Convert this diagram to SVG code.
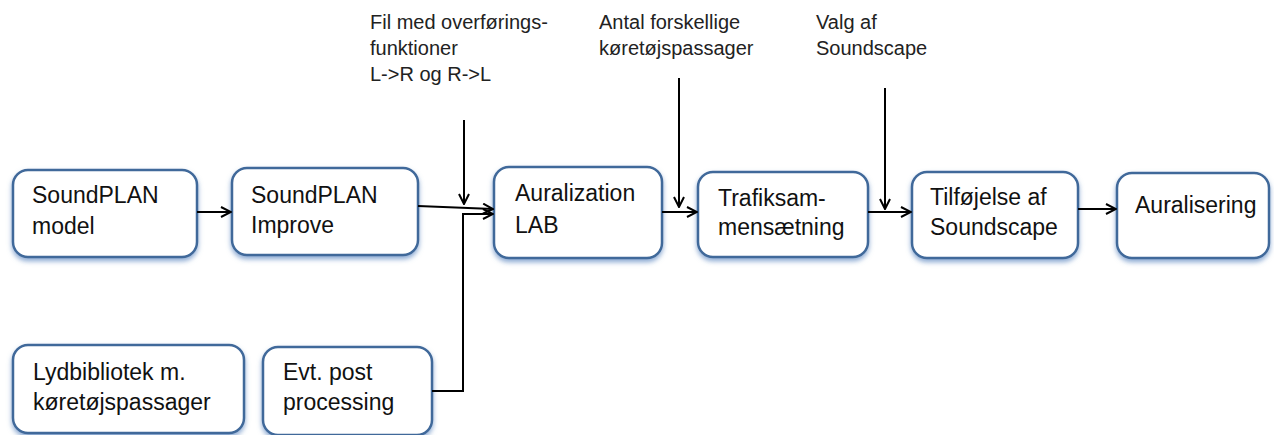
<svg xmlns="http://www.w3.org/2000/svg" width="1274" height="435" viewBox="0 0 1274 435">
<style>
.box{fill:#fff;stroke:#41699a;stroke-width:2.5;}
.nt{font-family:"Liberation Sans",Arial,sans-serif;font-size:23px;fill:#111;}
.lt{font-family:"Liberation Sans",Arial,sans-serif;font-size:20px;fill:#222;}
.c{fill:none;stroke:#000;stroke-width:2;}
</style>
<defs>
<filter id="sh" x="-10%" y="-10%" width="120%" height="130%">
<feGaussianBlur in="SourceAlpha" stdDeviation="2.5"/>
<feOffset dx="0" dy="3" result="b"/>
<feFlood flood-color="#5b86c0" flood-opacity="0.7"/>
<feComposite in2="b" operator="in"/>
<feMerge><feMergeNode/><feMergeNode in="SourceGraphic"/></feMerge>
</filter>
<marker id="ah" viewBox="0 0 12 12" refX="11" refY="6" markerWidth="12" markerHeight="12" markerUnits="userSpaceOnUse" orient="auto">
<path d="M1,1 L11,6 L1,11" fill="none" stroke="#000" stroke-width="2"/>
</marker>
</defs>
<g id="n1"><rect class="box" x="13" y="170" width="184" height="87" rx="15" filter="url(#sh)"/>
<text class="nt" x="32" y="203">SoundPLAN</text><text class="nt" x="32" y="234">model</text></g>
<g id="n2"><rect class="box" x="232" y="168" width="186" height="87" rx="15" filter="url(#sh)"/>
<text class="nt" x="251" y="203">SoundPLAN</text><text class="nt" x="251" y="233">Improve</text></g>
<g id="n3"><rect class="box" x="494" y="167" width="168" height="91" rx="15" filter="url(#sh)"/>
<text class="nt" x="515" y="201">Auralization</text><text class="nt" x="515" y="233">LAB</text></g>
<g id="n4"><rect class="box" x="698" y="172" width="170" height="85" rx="15" filter="url(#sh)"/>
<text class="nt" x="718" y="206">Trafiksam-</text><text class="nt" x="718" y="235">mensætning</text></g>
<g id="n5"><rect class="box" x="912" y="172" width="166" height="86" rx="15" filter="url(#sh)"/>
<text class="nt" x="930" y="205">Tilføjelse af</text><text class="nt" x="930" y="235">Soundscape</text></g>
<g id="n6"><rect class="box" x="1117" y="173" width="152" height="85" rx="15" filter="url(#sh)"/>
<text class="nt" x="1135" y="213">Auralisering</text></g>
<g id="n7"><rect class="box" x="13" y="345" width="231" height="88" rx="15" filter="url(#sh)"/>
<text class="nt" x="33" y="380">Lydbibliotek m.</text><text class="nt" x="33" y="410">køretøjspassager</text></g>
<g id="n8"><rect class="box" x="263" y="347" width="169" height="88" rx="15" filter="url(#sh)"/>
<text class="nt" x="283" y="380">Evt. post</text><text class="nt" x="283" y="410">processing</text></g>
<g id="labels">
<text class="lt" x="370" y="29">Fil med overførings-</text>
<text class="lt" x="370" y="55">funktioner</text>
<text class="lt" x="370" y="81">L-&gt;R og R-&gt;L</text>
<text class="lt" x="599" y="29">Antal forskellige</text>
<text class="lt" x="599" y="55">køretøjspassager</text>
<text class="lt" x="816" y="29">Valg af</text>
<text class="lt" x="816" y="55">Soundscape</text>
</g>
<g id="connectors">
<line class="c" x1="197" y1="212" x2="231" y2="212" marker-end="url(#ah)"/>
<line class="c" x1="418" y1="206" x2="493" y2="209" marker-end="url(#ah)"/>
<line class="c" x1="464" y1="120" x2="464" y2="204" marker-end="url(#ah)"/>
<polyline class="c" points="432,391 463,391 463,214 493,214" marker-end="url(#ah)"/>
<line class="c" x1="679" y1="78" x2="679" y2="207" marker-end="url(#ah)"/>
<line class="c" x1="662" y1="212" x2="697" y2="212" marker-end="url(#ah)"/>
<line class="c" x1="885" y1="88" x2="885" y2="209" marker-end="url(#ah)"/>
<line class="c" x1="868" y1="212" x2="911" y2="212" marker-end="url(#ah)"/>
<line class="c" x1="1078" y1="209" x2="1116" y2="209" marker-end="url(#ah)"/>
</g>
</svg>
